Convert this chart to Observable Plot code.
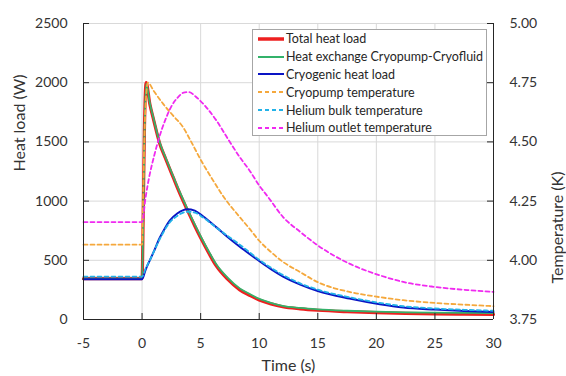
<!DOCTYPE html>
<html><head><meta charset="utf-8">
<script src="https://cdn.jsdelivr.net/npm/d3@7"></script>
<script src="https://cdn.jsdelivr.net/npm/@observablehq/plot@0.6"></script>
<style>
body{margin:0;background:#fff;}
#wrap{position:relative;width:566px;height:376px;font-family:Lato,sans-serif;}
#legend{position:absolute;left:252px;top:29px;width:235px;height:107px;background:#fff;border:1px solid #a6a6a6;box-sizing:border-box;padding-top:0px;}
.row{height:17.8px;display:flex;align-items:center;font-size:12.5px;color:#262626;white-space:nowrap;}
.row svg{margin-left:5px;margin-right:2px;flex:none;}
</style></head><body><div id="wrap"></div>
<script>
// ---- tick labels ----
const xTicks = [-5, 0, 5, 10, 15, 20, 25, 30];
const heatTicks = [0, 500, 1000, 1500, 2000, 2500];
const tempTicks = [3.75, 4.00, 4.25, 4.50, 4.75, 5.00];
const tempMin = 3.75, wattsPerKelvin = 2000; // secondary axis: 3.75 K at 0 W, 5.00 K at 2500 W

// ---- series (heat load in W) ----
const timeTotal = [-5, 0, 0.1, 0.2, 0.35, 0.66, 1.0, 1.51, 2.0, 2.65, 3.2, 3.79, 4.5, 5.0, 5.7, 6.35, 7.3, 8.34, 9.17, 10, 11, 12, 13.5, 15, 17.5, 20, 22.5, 25, 27.5, 30];
const totalHeatLoad = [345, 345, 900, 1600, 2000, 1821, 1680, 1484, 1360, 1202, 1070, 940, 790, 690, 560, 450, 340, 250, 205, 165, 132, 108, 90, 78, 66, 58, 52, 48, 45, 43];
const heatExchange = [345, 345, 850, 1550, 1990, 1830, 1690, 1495, 1370, 1212, 1082, 952, 803, 703, 574, 464, 354, 263, 217, 175, 141, 116, 98, 86, 74, 66, 61, 58, 56, 55];

const timeCryo = [-5, 0, 0.3, 0.66, 0.94, 1.51, 2.0, 2.36, 3.0, 3.85, 4.5, 5.2, 6.35, 7.3, 8.34, 9.17, 10, 11, 12.04, 13.5, 15, 17.7, 20.3, 22.3, 25, 27.5, 30];
const cryogenicHeatLoad = [340, 340, 420, 500, 560, 690, 780, 835, 895, 932, 920, 872, 778, 696, 614, 553, 494, 425, 362, 295, 241, 177, 129, 101, 84, 72, 64];

// ---- series (temperature in K) ----
const timePump = [-5, 0, 0.1, 0.25, 0.5, 1.0, 1.8, 2.65, 3.5, 4.2, 5.0, 6.06, 7.0, 8.34, 9.17, 10, 11, 12.04, 13.5, 15, 17.7, 20, 22.3, 25, 27.5, 30];
const cryopumpTemp = [4.066, 4.066, 4.30, 4.60, 4.75, 4.715, 4.6605, 4.611, 4.562, 4.50, 4.425, 4.3375, 4.265, 4.1825, 4.1335, 4.0825, 4.035, 3.993, 3.95, 3.9075, 3.8665, 3.8465, 3.8315, 3.82, 3.8125, 3.8065];

const timeBulk = [-5, 0, 0.3, 0.66, 1.51, 2.36, 3.0, 3.85, 4.5, 5.2, 6.35, 8.34, 10, 12.04, 13.5, 15, 17.7, 20.3, 22.3, 25, 27.5, 30];
const heliumBulkTemp = [3.931, 3.931, 3.965, 4.0, 4.09, 4.16, 4.1875, 4.205, 4.2015, 4.181, 4.1375, 4.066, 4.0025, 3.9375, 3.9025, 3.876, 3.844, 3.82, 3.806, 3.7965, 3.791, 3.787];

const timeOutlet = [-5, 0, 0.3, 0.6, 1.0, 1.5, 2.0, 2.5, 3.0, 3.65, 4.0, 4.64, 5.5, 6.35, 7.3, 8.34, 9.17, 10, 10.76, 12.04, 13.5, 15, 17.7, 20.3, 22.3, 25, 28, 30];
const heliumOutletTemp = [4.1615, 4.1615, 4.265, 4.35, 4.435, 4.525, 4.595, 4.65, 4.685, 4.7095, 4.71, 4.6885, 4.645, 4.59, 4.515, 4.4355, 4.3795, 4.316, 4.267, 4.1825, 4.12, 4.063, 3.986, 3.9365, 3.9085, 3.8875, 3.8735, 3.8665];

const toW = T => (T - tempMin) * wattsPerKelvin;

const seriesDefs = [
  {name: "Total heat load", t: timeTotal, v: totalHeatLoad, temp: false, color: "#ee1f1f", width: 3.2, dash: null},
  {name: "Heat exchange Cryopump-Cryofluid", t: timeTotal, v: heatExchange, temp: false, color: "#33b26a", width: 1.8, dash: null},
  {name: "Cryogenic heat load", t: timeCryo, v: cryogenicHeatLoad, temp: false, color: "#0a14c4", width: 2, dash: null},
  {name: "Cryopump temperature", t: timePump, v: cryopumpTemp, temp: true, color: "#f5a83c", width: 1.8, dash: "4,3"},
  {name: "Helium bulk temperature", t: timeBulk, v: heliumBulkTemp, temp: true, color: "#22b2e8", width: 1.8, dash: "4,3"},
  {name: "Helium outlet temperature", t: timeOutlet, v: heliumOutletTemp, temp: true, color: "#f02af0", width: 1.8, dash: "4,3"}
];

const tables = seriesDefs.map(s => s.t.map((t, i) => ({t, w: s.temp ? toW(s.v[i]) : s.v[i]})));

const axisColor = "#262626";
const gridColor = "#d9d9d9";

const plot = Plot.plot({
  width: 566, height: 376,
  marginLeft: 83, marginRight: 73, marginTop: 23, marginBottom: 57,
  style: {fontFamily: "Lato, sans-serif", fontSize: "14px", color: "#333", background: "#fff"},
  x: {domain: [-5, 30]},
  y: {domain: [0, 2500]},
  marks: [
    Plot.ruleX(xTicks, {x: d => d, stroke: gridColor, strokeWidth: 1}),
    Plot.ruleY(heatTicks, {y: d => d, stroke: gridColor, strokeWidth: 1}),
    ...seriesDefs.map((s, k) => Plot.line(tables[k], {
      x: "t", y: "w", stroke: s.color, strokeWidth: s.width,
      strokeDasharray: s.dash, curve: "monotone-x"
    })),
    // axis lines
    Plot.ruleX([-5, 30], {x: d => d, stroke: axisColor, strokeWidth: 1}),
    Plot.ruleY([0], {y: d => d, stroke: axisColor, strokeWidth: 1}),
    // inward ticks
    Plot.ruleX(xTicks, {x: d => d, y1: () => 0, y2: () => 0, insetTop: -6, stroke: axisColor}),
    Plot.ruleY(heatTicks, {y: d => d, x1: () => -5, x2: () => -5, insetRight: -6, stroke: axisColor}),
    Plot.ruleY(tempTicks.map(toW), {y: d => d, x1: () => 30, x2: () => 30, insetLeft: -6, stroke: axisColor}),
    // tick labels
    Plot.axisX(xTicks, {tickSize: 0, tickPadding: 19, label: null, tickFormat: d => String(d)}),
    Plot.axisY(heatTicks, {anchor: "left", tickSize: 0, tickPadding: 16, label: null, tickFormat: d => String(d)}),
    Plot.axisY(tempTicks.map(toW), {anchor: "right", tickSize: 0, tickPadding: 16, label: null,
      tickFormat: d => (tempMin + d / wattsPerKelvin).toFixed(2)}),
    // axis titles
    Plot.text(["Time (s)"], {text: d => d, frameAnchor: "bottom", dy: 51, fontSize: 16, fill: "#333"}),
    Plot.text(["Heat load (W)"], {text: d => d, frameAnchor: "left", rotate: -90, dx: -64, fontSize: 16, fill: "#333"}),
    Plot.text(["Temperature (K)"], {text: d => d, frameAnchor: "right", rotate: -90, dx: 64, fontSize: 16, fill: "#333"})
  ]
});

const wrap = document.getElementById("wrap");
wrap.appendChild(plot);

// legend
const legend = document.createElement("div");
legend.id = "legend";
seriesDefs.forEach(s => {
  const row = document.createElement("div");
  row.className = "row";
  row.innerHTML = `<svg width="26" height="6"><line x1="0" x2="26" y1="3" y2="3" stroke="${s.color}" stroke-width="${s.name === 'Total heat load' ? 3.5 : 2}" ${s.dash ? `stroke-dasharray="${s.dash}"` : ""}/></svg><span></span>`;
  row.querySelector("span").textContent = s.name;
  legend.appendChild(row);
});
wrap.appendChild(legend);
</script>
</body></html>
